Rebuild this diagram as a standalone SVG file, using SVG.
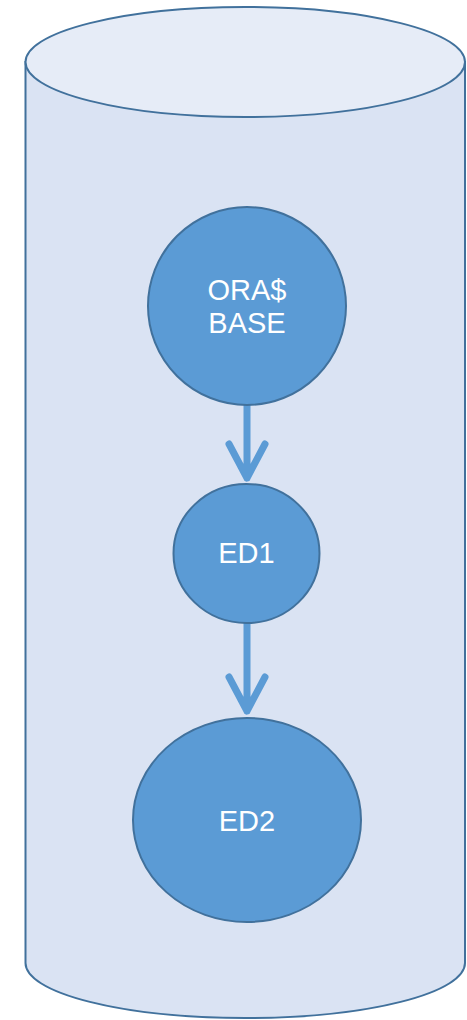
<svg xmlns="http://www.w3.org/2000/svg" width="467" height="1020" viewBox="0 0 467 1020">
<style>
.node{fill:#5B9BD5;stroke:#41719C;stroke-width:2}
.lbl{font-family:"Liberation Sans",Arial,sans-serif;font-size:29px;fill:#FFFFFF;text-anchor:middle}
.conn{fill:none;stroke:#5B9BD5;stroke-width:7;stroke-linecap:round;stroke-linejoin:round}
</style>
<rect width="467" height="1020" fill="#FFFFFF"/>
<g id="cylinder">
<path d="M25.5,62 L25.5,963 A219.75,55 0 0 0 465,963 L465,62 Z" fill="#DAE3F3" stroke="#41719C" stroke-width="2"/>
<ellipse cx="245.25" cy="62" rx="219.75" ry="55" fill="#E6ECF7" stroke="#41719C" stroke-width="2"/>
</g>
<g id="connectors">
<path class="conn" d="M247,406 L247,478 M229,444 L247,478 L265,444"/>
<path class="conn" d="M247,624 L247,711 M229,677 L247,711 L265,677"/>
</g>
<g id="orabase">
<circle class="node" cx="247" cy="306" r="99"/>
<text class="lbl" x="247" y="300">ORA$</text>
<text class="lbl" x="247" y="333">BASE</text>
</g>
<g id="ed1">
<ellipse class="node" cx="246.5" cy="553.5" rx="73" ry="69.5"/>
<text class="lbl" x="246.5" y="563">ED1</text>
</g>
<g id="ed2">
<ellipse class="node" cx="247" cy="820" rx="114" ry="102"/>
<text class="lbl" x="247" y="831">ED2</text>
</g>
</svg>
